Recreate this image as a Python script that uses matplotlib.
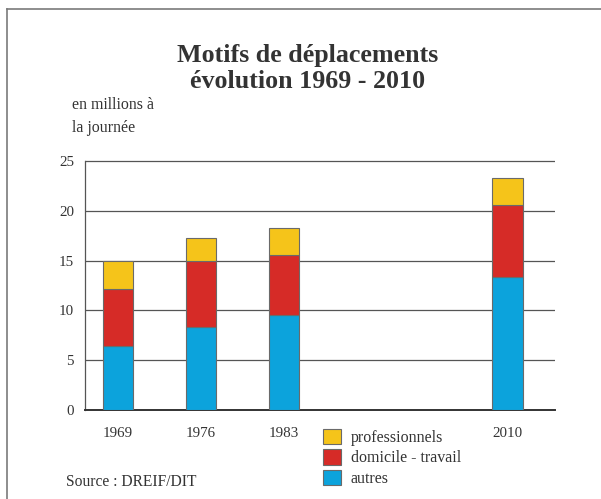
import matplotlib
matplotlib.use("Agg")
import matplotlib.pyplot as plt
from matplotlib.patches import Patch
from matplotlib.lines import Line2D

# Data: daily trips (millions) by purpose
years = ["1969", "1976", "1983", "2010"]
autres = [6.4, 8.3, 9.5, 13.4]
domicile_travail = [5.7, 6.7, 6.1, 7.2]
professionnels = [2.9, 2.3, 2.7, 2.7]
yticks = [0, 5, 10, 15, 20, 25]

series_labels = ["professionnels", "domicile - travail", "autres"]
c_autres = "#0ca3dc"
c_dom = "#d62b27"
c_pro = "#f5c41a"

plt.rcParams["font.family"] = ["Liberation Serif", "DejaVu Serif"]

W, H = 601, 499
fig = plt.figure(figsize=(W / 100, H / 100), dpi=100)
fig.patch.set_facecolor("white")

# axes placement in pixel terms
ax_l, ax_r, ax_b = 85, 555, 410
px_per_unit = 9.96
ymax = 25.3
ax_t = ax_b - ymax * px_per_unit
ax = fig.add_axes([ax_l / W, 1 - ax_b / H, (ax_r - ax_l) / W, (ax_b - ax_t) / H])

xpos = [0, 1, 2, 4.7]
width = 0.37
edge = "#6a6a6a"

bottom2 = [a + d for a, d in zip(autres, domicile_travail)]
ax.bar(xpos, autres, width, color=c_autres, edgecolor=edge, linewidth=0.8, zorder=3)
ax.bar(xpos, domicile_travail, width, bottom=autres, color=c_dom, edgecolor=edge,
       linewidth=0.8, zorder=3)
ax.bar(xpos, professionnels, width, bottom=bottom2, color=c_pro, edgecolor=edge,
       linewidth=0.8, zorder=3)

ax.set_xlim(-0.40, 5.27)
ax.set_ylim(0, ymax)
ax.set_yticks(yticks)
ax.set_yticklabels([str(v) for v in yticks], fontsize=10.8, color="#333333")
ax.set_xticks(xpos)
ax.set_xticklabels(years, fontsize=10.8, color="#333333")
ax.tick_params(axis="y", length=0, pad=8)
ax.tick_params(axis="x", length=0, pad=12)

for v in yticks[1:]:
    ax.axhline(v, color="#555555", linewidth=0.9, zorder=1)

for s in ["top", "right"]:
    ax.spines[s].set_visible(False)
ax.spines["left"].set_bounds(0, 25)
ax.spines["left"].set_color("#555555")
ax.spines["left"].set_linewidth(0.9)
ax.spines["bottom"].set_color("#333333")
ax.spines["bottom"].set_linewidth(1.4)
ax.set_facecolor("none")

# Title
fig.text(308 / W, 1 - 62 / H, "Motifs de déplacements", ha="center", va="baseline",
         fontsize=18.7, fontweight="bold", color="#333333")
fig.text(308 / W, 1 - 88 / H, "évolution 1969 - 2010", ha="center", va="baseline",
         fontsize=18.7, fontweight="bold", color="#333333")

# Unit label
fig.text(72 / W, 1 - 109 / H, "en millions à", ha="left", va="baseline",
         fontsize=11.4, color="#333333")
fig.text(72 / W, 1 - 132 / H, "la journée", ha="left", va="baseline",
         fontsize=11.4, color="#333333")

# Source
fig.text(66 / W, 1 - 486 / H, "Source : DREIF/DIT", ha="left", va="baseline",
         fontsize=11.2, color="#333333")

# Legend
handles = [Patch(facecolor=c, edgecolor=edge, linewidth=0.8)
           for c in (c_pro, c_dom, c_autres)]
fig.legend(handles, series_labels, loc="upper left",
           bbox_to_anchor=(323 / W, 1 - 429 / H), frameon=False,
           fontsize=11.5, handlelength=1.1, handleheight=1.1,
           handletextpad=0.65, labelspacing=0.2, borderpad=0,
           borderaxespad=0, labelcolor="#333333")

# Frame lines along the top and left of the figure
fig.add_artist(Line2D([7 / W, 1], [1 - 9 / H, 1 - 9 / H], color="#7a7a7a",
                      linewidth=1.2, transform=fig.transFigure))
fig.add_artist(Line2D([7 / W, 7 / W], [0, 1 - 9 / H], color="#7a7a7a",
                      linewidth=1.2, transform=fig.transFigure))

fig.savefig("out.png", dpi=100)
